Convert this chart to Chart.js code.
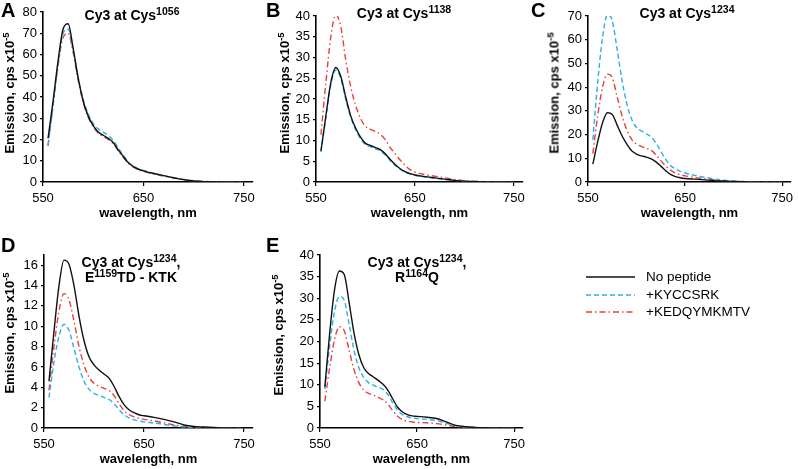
<!DOCTYPE html>
<html>
<head>
<meta charset="utf-8">
<script src="https://cdn.jsdelivr.net/npm/chart.js@4"></script>
<style>
  body { margin: 0; background: #fff; width: 798px; height: 469px; overflow: hidden; position: relative;
         font-family: Arial, "Liberation Sans", Helvetica, sans-serif; color: #000; }
  canvas { position: absolute; }
  .lbl { position: absolute; font-weight: bold; font-size: 20px; line-height: 20px; }
  .ttl { position: absolute; font-weight: bold; font-size: 14px; line-height: 15px; text-align: center; white-space: nowrap; transform: translateX(-50%); }
  .ttl sup, .yt sup { font-size: 10.5px; vertical-align: 5px; line-height: 0; }
  .yt sup { font-size: 9.5px; }
  .yt { position: absolute; font-weight: bold; font-size: 13px; white-space: nowrap; transform: translate(-50%, -50%) rotate(-90deg); }
  .leg { position: absolute; left: 586px; font-size: 13.5px; line-height: 18px; }
  .leg div { height: 17.7px; display: flex; align-items: center; }
  .leg svg { margin-right: 11px; }
</style>
</head>
<body>
<canvas id="cA" style="left:0;top:0" width="265" height="232"></canvas>
<canvas id="cB" style="left:265px;top:0" width="265" height="232"></canvas>
<canvas id="cC" style="left:530px;top:0" width="268" height="232"></canvas>
<canvas id="cD" style="left:0;top:235px" width="265" height="234"></canvas>
<canvas id="cE" style="left:265px;top:235px" width="265" height="234"></canvas>

<div class="lbl" style="left:1px;top:0">A</div>
<div class="lbl" style="left:266px;top:0">B</div>
<div class="lbl" style="left:531px;top:0">C</div>
<div class="lbl" style="left:1px;top:235px">D</div>
<div class="lbl" style="left:266px;top:235px">E</div>

<div class="ttl" style="left:132px;top:8px">Cy3 at Cys<sup>1056</sup></div>
<div class="ttl" style="left:404px;top:6px">Cy3 at Cys<sup>1138</sup></div>
<div class="ttl" style="left:687px;top:6px">Cy3 at Cys<sup>1234</sup></div>
<div class="ttl" style="left:131px;top:255px">Cy3 at Cys<sup>1234</sup>,<br>E<sup>1159</sup>TD - KTK</div>
<div class="ttl" style="left:417px;top:255px">Cy3 at Cys<sup>1234</sup>,<br>R<sup>1164</sup>Q</div>

<div class="yt" style="left:9px;top:93px">Emission, cps x10<sup>-5</sup></div>
<div class="yt" style="left:284px;top:93px">Emission, cps x10<sup>-5</sup></div>
<div class="yt" style="left:554px;top:93px">Emission, cps x10<sup>-5</sup></div>
<div class="yt" style="left:9px;top:333px">Emission, cps x10<sup>-5</sup></div>
<div class="yt" style="left:278px;top:335px">Emission, cps x10<sup>-5</sup></div>

<div class="leg" style="top:268px">
  <div><svg width="49" height="4"><line x1="0" y1="2" x2="49" y2="2" stroke="#111" stroke-width="1.5"/></svg>No peptide</div>
  <div><svg width="49" height="4"><line x1="0" y1="2" x2="49" y2="2" stroke="#2bb0e4" stroke-width="1.5" stroke-dasharray="5,3"/></svg>+KYCCSRK</div>
  <div><svg width="49" height="4"><line x1="0" y1="2" x2="49" y2="2" stroke="#e8403a" stroke-width="1.5" stroke-dasharray="6,3,1.5,3"/></svg>+KEDQYMKMTV</div>
</div>

<script>
// ---- data ----
const wavelengths = [555,560,565,570,575,580,585,590,595,600,605,610,615,620,625,630,635,640,645,650,660,670,680,690,700,710,720,730,740,750];
const xTicks = [550, 650, 750];

// A: Cy3 at Cys1056
const aNone = [20.5,38,57,72,74.5,63,49,38,31,26.5,23.5,22,20.5,18.5,15,12,9,7.2,6,5.2,4,3,2,1.1,0.5,0.2,0.1,0,0,0];
const aKyc  = [17,36,55,70,72,62,49,39,32,27.5,25,23.5,22,19.5,16,12.5,9.5,7.5,6.2,5.4,4.1,3,2,1.2,0.6,0.3,0.1,0,0,0];
const aKed  = [17,36,55,68,70,61,48,37.5,30.5,26,23,21.5,20,18,14.5,11.5,8.8,7,5.8,5,3.8,2.8,1.9,1.1,0.5,0.2,0.1,0,0,0];
const aYTicks = [0,10,20,30,40,50,60,70,80];

// B: Cy3 at Cys1138
const bNone = [7.5,16,24,27.6,25.5,20.5,16,13,10.8,9.3,8.8,8.3,7.8,6.8,5.4,4.2,3.2,2.5,2,1.7,1.3,1,0.7,0.4,0.2,0.1,0,0,0,0];
const bKyc  = [7.2,15.5,23.5,27,25,20,15.7,12.6,10.4,9,8.5,8,7.5,6.5,5.2,4,3.1,2.4,1.9,1.6,1.2,0.9,0.6,0.4,0.2,0.1,0,0,0,0];
const bKed  = [11.4,24,35,40.3,37.5,29.5,23,18.5,15.3,13.4,12.7,12.2,11.5,10.2,8.3,6.8,5.3,4,3,2.4,1.8,1.4,1,0.6,0.3,0.2,0.1,0,0,0];
const bYTicks = [0,5,10,15,20,25,30,35,40];

// C: Cy3 at Cys1234
const cNone = [7.5,17,25,29.2,28.5,24,19.5,16,13.2,11.8,11,10.5,9.8,8.5,6.7,4.8,3.2,2.3,1.8,1.5,1.2,0.9,0.6,0.4,0.2,0.1,0,0,0,0];
const cKyc  = [17.8,42,61,70.5,68,56,43,33,26.5,23,21.5,20.3,19,16.5,13,9.5,7,5.5,4.5,3.8,2.8,2,1.3,0.8,0.4,0.2,0.1,0,0,0];
const cKed  = [12,28,40,45.5,44,36,28,22,18,16,15,14.2,13.4,11.5,9,6.8,5,3.8,3.1,2.6,1.9,1.4,0.9,0.5,0.3,0.1,0,0,0,0];
const cYTicks = [0,10,20,30,40,50,60,70];

// D: Cy3 at Cys1234, E1159TD - KTK
const dNone = [4.6,9.5,14,16.5,16.1,14,11,8.6,7,6.2,5.7,5.3,4.9,4.1,3.1,2.3,1.8,1.5,1.3,1.2,1.05,0.85,0.6,0.3,0.15,0.1,0.05,0,0,0];
const dKyc  = [3,6.5,9,10.2,9.6,7.8,6,4.6,3.8,3.4,3.2,3,2.8,2.4,1.8,1.3,1,0.8,0.7,0.6,0.5,0.35,0.2,0.1,0.05,0,0,0,0,0];
const dKed  = [3.7,8,11.5,13.2,12.6,10.5,8,6.2,5,4.4,4.1,3.9,3.7,3.2,2.4,1.7,1.3,1.1,0.95,0.85,0.7,0.5,0.3,0.15,0.08,0,0,0,0,0];
const dYTicks = [0,2,4,6,8,10,12,14,16];
const dYMax = 17;

// E: Cy3 at Cys1234, R1164Q
const eNone = [9.5,22,32,36.3,35.5,29,22,17,14,12.6,11.8,11,10.1,8.7,6.7,4.8,3.7,3.1,2.8,2.7,2.5,2.2,1.4,0.6,0.3,0.15,0.05,0,0,0];
const eKyc  = [9,19,27,30.4,29.5,24,18,14,11.7,10.5,9.9,9.4,8.9,7.7,5.8,4.1,3.1,2.6,2.3,2.2,2,1.7,1.1,0.5,0.25,0.1,0,0,0,0];
const eKed  = [6.2,14,20.5,23.4,22.5,18,13.5,10.5,8.8,8,7.6,7.1,6.5,5.5,4,2.7,1.9,1.6,1.4,1.3,1.2,1,0.7,0.3,0.15,0.05,0,0,0,0];
const eYTicks = [0,5,10,15,20,25,30,35,40];

// ---- helpers ----
const FONT = "Arial, 'Liberation Sans', Helvetica, sans-serif";

function pts(ys) {
  return ys.map((y, i) => ({ x: wavelengths[i], y }));
}

function makePanel(id, none, kyc, ked, yTicks, area, yMax) {
  const cv = document.getElementById(id);
  const W = cv.width, H = cv.height;
  const xAxisH = 40;
  new Chart(cv, {
    type: "line",
    data: {
      datasets: [
        { label: "No peptide", data: pts(none), borderColor: "#111", borderWidth: 1.4 },
        { label: "+KYCCSRK", data: pts(kyc), borderColor: "#2bb0e4", borderWidth: 1.4, borderDash: [5, 3] },
        { label: "+KEDQYMKMTV", data: pts(ked), borderColor: "#e8403a", borderWidth: 1.4, borderDash: [6, 3, 1.5, 3] }
      ]
    },
    options: {
      responsive: false,
      animation: false,
      devicePixelRatio: 1,
      elements: { point: { radius: 0 }, line: { cubicInterpolationMode: "monotone", fill: false } },
      plugins: { legend: { display: false }, tooltip: { enabled: false } },
      layout: { padding: { left: 0, top: area.t, right: W - area.r, bottom: H - area.b - xAxisH } },
      scales: {
        x: {
          type: "linear",
          min: 550, max: 759,
          afterBuildTicks: s => { s.ticks = xTicks.map(v => ({ value: v })); },
          afterFit: s => { s.height = xAxisH; },
          grid: { display: true, drawOnChartArea: false, drawTicks: true, tickLength: 4, color: "#000", lineWidth: 1.2 },
          border: { display: true, color: "#000", width: 1.6 },
          ticks: { color: "#000", font: { family: FONT, size: 13 }, padding: 5, maxRotation: 0 },
          title: { display: true, text: "wavelength, nm", color: "#000", font: { family: FONT, size: 13, weight: "bold" }, padding: { top: 0, bottom: 1 } }
        },
        y: {
          min: yTicks[0], max: yMax ?? yTicks[yTicks.length - 1],
          afterBuildTicks: s => { s.ticks = yTicks.map(v => ({ value: v })); },
          afterFit: s => { s.width = area.l; },
          grid: { display: true, drawOnChartArea: false, drawTicks: true, tickLength: 3, color: "#000", lineWidth: 1.2 },
          border: { display: true, color: "#000", width: 1.6 },
          ticks: { color: "#000", font: { family: FONT, size: 13 }, padding: 3 }
        }
      }
    }
  });
}

makePanel("cA", aNone, aKyc, aKed, aYTicks, { l: 43, t: 12, r: 253, b: 182 });
makePanel("cB", bNone, bKyc, bKed, bYTicks, { l: 51, t: 16, r: 260, b: 182 });
makePanel("cC", cNone, cKyc, cKed, cYTicks, { l: 58, t: 16, r: 267, b: 182 });
makePanel("cD", dNone, dKyc, dKed, dYTicks, { l: 44, t: 20, r: 253, b: 193 }, dYMax);
makePanel("cE", eNone, eKyc, eKed, eYTicks, { l: 55, t: 20, r: 264, b: 193 });
</script>
</body>
</html>
